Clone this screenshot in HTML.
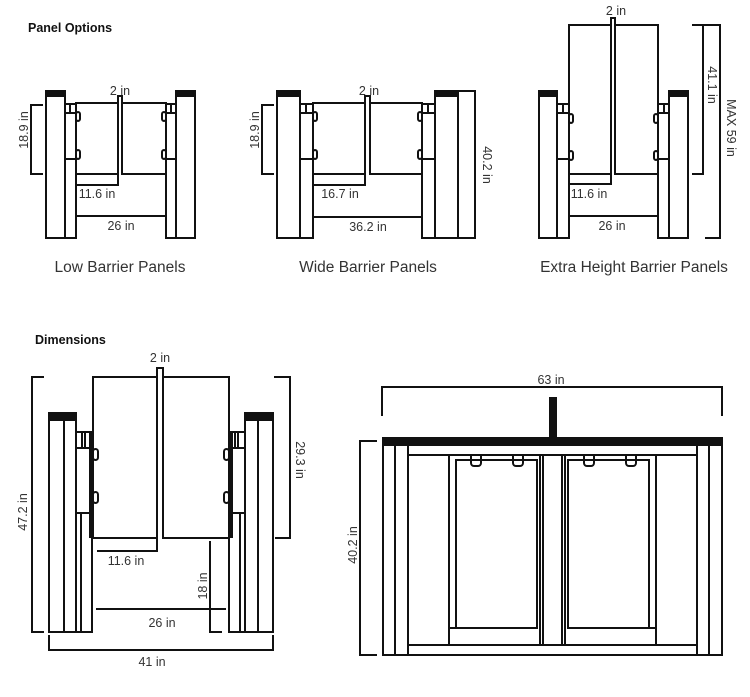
<!DOCTYPE html>
<html><head><meta charset="utf-8"><style>
html,body{margin:0;padding:0;background:#fff;}
svg{display:block;}
text{font-family:"Liberation Sans",sans-serif;fill:#333;}
.d{font-size:12.5px;}
.l{font-size:15.5px;fill:#333;}
.h{font-size:12.5px;font-weight:bold;fill:#111;}
</style></head><body>
<svg width="750" height="697" viewBox="0 0 750 697" xmlns="http://www.w3.org/2000/svg">
<g fill="none" stroke="#111" stroke-width="2">

<!-- LOW BARRIER -->
<rect x="46" y="92" width="19" height="146"/>
<rect x="65" y="104" width="11" height="134"/>
<line x1="65" y1="159" x2="76" y2="159"/>
<rect x="65" y="104" width="11" height="9"/><line x1="70" y1="104" x2="70" y2="113"/>
<rect x="76" y="103" width="42" height="71"/>
<rect x="76" y="112" width="4" height="9" rx="2"/><rect x="76" y="150" width="4" height="9" rx="2"/>
<rect x="176" y="92" width="19" height="146"/>
<rect x="166" y="104" width="10" height="134"/>
<line x1="166" y1="159" x2="176" y2="159"/>
<rect x="166" y="104" width="10" height="9"/><line x1="171" y1="104" x2="171" y2="113"/>
<rect x="122" y="103" width="44" height="71"/>
<rect x="162" y="112" width="4" height="9" rx="2"/><rect x="162" y="150" width="4" height="9" rx="2"/>
<path d="M118 103V96H122V103"/>
<path d="M43 105H31V174H43"/>
<path d="M77 185H118V174"/>
<line x1="76" y1="216" x2="166" y2="216"/>

<!-- WIDE BARRIER -->
<rect x="277" y="92" width="23" height="146"/>
<rect x="300" y="104" width="13" height="134"/>
<line x1="300" y1="159" x2="313" y2="159"/>
<rect x="300" y="104" width="13" height="9"/><line x1="306" y1="104" x2="306" y2="113"/>
<rect x="313" y="103" width="52" height="71"/>
<rect x="313" y="112" width="4" height="9" rx="2"/><rect x="313" y="150" width="4" height="9" rx="2"/>
<rect x="435" y="92" width="23" height="146"/>
<rect x="422" y="104" width="13" height="134"/>
<line x1="422" y1="159" x2="435" y2="159"/>
<rect x="422" y="104" width="13" height="9"/><line x1="428" y1="104" x2="428" y2="113"/>
<rect x="370" y="103" width="52" height="71"/>
<rect x="418" y="112" width="4" height="9" rx="2"/><rect x="418" y="150" width="4" height="9" rx="2"/>
<path d="M365 103V96H370V103"/>
<path d="M274 105H262V174H274"/>
<path d="M313 185H365V174"/>
<line x1="313" y1="217" x2="422" y2="217"/>
<path d="M458 91H475V238H458"/>

<!-- EXTRA HEIGHT -->
<rect x="539" y="92" width="18" height="146"/>
<rect x="557" y="104" width="12" height="134"/>
<line x1="557" y1="159" x2="569" y2="159"/>
<rect x="557" y="104" width="12" height="9"/><line x1="563" y1="104" x2="563" y2="113"/>
<rect x="569" y="25" width="42" height="149"/>
<rect x="569" y="114" width="4" height="9" rx="2"/><rect x="569" y="151" width="4" height="9" rx="2"/>
<rect x="669" y="92" width="19" height="146"/>
<rect x="658" y="104" width="11" height="134"/>
<line x1="658" y1="159" x2="669" y2="159"/>
<rect x="658" y="104" width="11" height="9"/><line x1="664" y1="104" x2="664" y2="113"/>
<rect x="615" y="25" width="43" height="149"/>
<rect x="654" y="114" width="4" height="9" rx="2"/><rect x="654" y="151" width="4" height="9" rx="2"/>
<path d="M611 25V18H615V25"/>
<path d="M692 25H720V238H705"/>
<path d="M703 25V174H692"/>
<path d="M569 184H611V174"/>
<line x1="569" y1="216" x2="658" y2="216"/>

<!-- DIMENSIONS LEFT -->
<rect x="49" y="418" width="27" height="214"/>
<line x1="64" y1="418" x2="64" y2="632"/>
<rect x="76" y="432" width="16" height="200"/>
<line x1="76" y1="448" x2="92" y2="448"/>
<line x1="76" y1="513" x2="92" y2="513"/>
<line x1="82" y1="432" x2="82" y2="448"/><line x1="85" y1="432" x2="85" y2="448"/>
<line x1="81" y1="513" x2="81" y2="632"/>
<rect x="93" y="377" width="64" height="161"/>
<rect x="93" y="449" width="5" height="11" rx="2.5"/><rect x="93" y="492" width="5" height="11" rx="2.5"/>
<rect x="245" y="418" width="28" height="214"/>
<line x1="258" y1="418" x2="258" y2="632"/>
<rect x="229" y="432" width="16" height="200"/>
<line x1="229" y1="448" x2="245" y2="448"/>
<line x1="229" y1="513" x2="245" y2="513"/>
<line x1="235" y1="432" x2="235" y2="448"/><line x1="238" y1="432" x2="238" y2="448"/>
<line x1="240" y1="513" x2="240" y2="632"/>
<rect x="163" y="377" width="66" height="161"/>
<rect x="224" y="449" width="5" height="11" rx="2.5"/><rect x="224" y="492" width="5" height="11" rx="2.5"/>
<path d="M157 377V368H163V377"/>
<path d="M44 377H32V632H44"/>
<path d="M274 377H290V538H275"/>
<path d="M97 551H157V538"/>
<path d="M210 541V632H222"/>
<line x1="96" y1="609" x2="226" y2="609"/>
<path d="M49 635V650H273V635"/>

<!-- DIMENSIONS RIGHT -->
<path d="M382 416V387H722V416"/>
<path d="M377 441H360V655H377"/>
<rect x="383" y="445" width="339" height="210"/>
<line x1="395" y1="445" x2="395" y2="655"/>
<line x1="408" y1="445" x2="408" y2="655"/>
<line x1="697" y1="445" x2="697" y2="655"/>
<line x1="709" y1="445" x2="709" y2="655"/>
<line x1="408" y1="455" x2="697" y2="455"/>
<line x1="408" y1="645" x2="697" y2="645"/>
<line x1="449" y1="455" x2="449" y2="645"/>
<line x1="656" y1="455" x2="656" y2="645"/>
<rect x="456" y="460" width="81" height="168"/>
<rect x="568" y="460" width="81" height="168"/>
<line x1="540" y1="455" x2="540" y2="645"/>
<line x1="543" y1="455" x2="543" y2="645"/>
<line x1="562" y1="455" x2="562" y2="645"/>
<line x1="565" y1="455" x2="565" y2="645"/>
<line x1="449" y1="628" x2="537" y2="628"/>
<line x1="568" y1="628" x2="656" y2="628"/>
<path d="M471 455V463A3 3 0 0 0 474 466H478A3 3 0 0 0 481 463V455"/>
<path d="M513 455V463A3 3 0 0 0 516 466H520A3 3 0 0 0 523 463V455"/>
<path d="M584 455V463A3 3 0 0 0 587 466H591A3 3 0 0 0 594 463V455"/>
<path d="M626 455V463A3 3 0 0 0 629 466H633A3 3 0 0 0 636 463V455"/>
</g>
<g fill="#111">
<rect x="45" y="90" width="21" height="7"/>
<rect x="175" y="90" width="21" height="7"/>
<rect x="276" y="90" width="25" height="7"/>
<rect x="434" y="90" width="25" height="7"/>
<rect x="538" y="90" width="20" height="7"/>
<rect x="668" y="90" width="21" height="7"/>
<rect x="48" y="412" width="29" height="9"/>
<rect x="244" y="412" width="30" height="9"/>
<rect x="89" y="432" width="4" height="106"/>
<rect x="229" y="432" width="4" height="106"/>
<rect x="382" y="437" width="341" height="8"/>
<rect x="549" y="397" width="8" height="41"/>
<rect x="536" y="460" width="2" height="168"/>
<rect x="648" y="460" width="2" height="168"/>
</g>

<text class="h" x="28" y="32">Panel Options</text>
<text class="h" x="35" y="344">Dimensions</text>

<g class="d" text-anchor="middle">
<text x="120" y="95">2 in</text>
<text x="97" y="198">11.6 in</text>
<text x="121" y="230">26 in</text>
<text x="369" y="95">2 in</text>
<text x="340" y="198">16.7 in</text>
<text x="368" y="231">36.2 in</text>
<text x="616" y="15">2 in</text>
<text x="589" y="198">11.6 in</text>
<text x="612" y="230">26 in</text>
<text x="160" y="362">2 in</text>
<text x="126" y="565">11.6 in</text>
<text x="162" y="627">26 in</text>
<text x="152" y="666">41 in</text>
<text x="551" y="384">63 in</text>
<text transform="translate(28,130) rotate(-90)">18.9 in</text>
<text transform="translate(259,130) rotate(-90)">18.9 in</text>
<text transform="translate(483,165) rotate(90)">40.2 in</text>
<text transform="translate(708,85) rotate(90)">41.1 in</text>
<text transform="translate(727,128) rotate(90)">MAX 59 in</text>
<text transform="translate(27,512) rotate(-90)">47.2 in</text>
<text transform="translate(296,460) rotate(90)">29.3 in</text>
<text transform="translate(207,586) rotate(-90)">18 in</text>
<text transform="translate(357,545) rotate(-90)">40.2 in</text>
</g>
<g class="l" text-anchor="middle">
<text x="120" y="272">Low Barrier Panels</text>
<text x="368" y="272">Wide Barrier Panels</text>
<text x="634" y="272">Extra Height Barrier Panels</text>
</g>
</svg>
</body></html>
